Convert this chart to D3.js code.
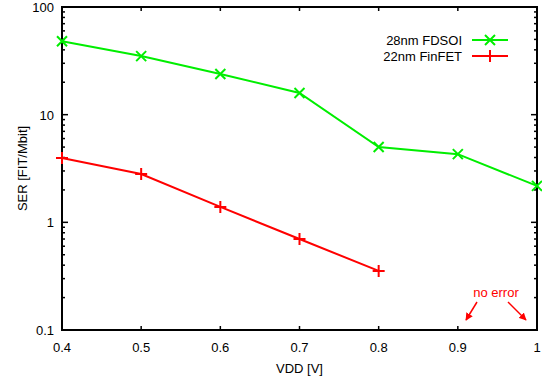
<!DOCTYPE html>
<html>
<head>
<meta charset="utf-8">
<script src="https://cdn.jsdelivr.net/npm/d3@7"></script>
<style>
  body { margin: 0; background: #fff; }
  text { font-family: "Liberation Sans", Arial, sans-serif; }
</style>
</head>
<body>
<div id="chart"></div>
<script>
var vdd = [0.4, 0.5, 0.6, 0.7, 0.8, 0.9, 1.0];
var fdsoi = [48, 35, 23.9, 15.9, 5.0, 4.3, 2.18];
var finfetVdd = [0.4, 0.5, 0.6, 0.7, 0.8];
var finfet = [3.96, 2.81, 1.39, 0.70, 0.354];
var xTicks = [0.4, 0.5, 0.6, 0.7, 0.8, 0.9, 1.0];
var xTickLabels = ["0.4", "0.5", "0.6", "0.7", "0.8", "0.9", "1"];
var yTicks = [0.1, 1, 10, 100];
var yTickLabels = ["0.1", "1", "10", "100"];

var width = 542, height = 383;
var pLeft = 62, pRight = 537, pTop = 7, pBottom = 330;
var fs = 13;

var svg = d3.select("#chart").append("svg").attr("width", width).attr("height", height);

var x = d3.scaleLinear().domain([0.4, 1.0]).range([pLeft, pRight]);
var y = d3.scaleLog().domain([0.1, 100]).range([pBottom, pTop]);

// minor ticks 2..9 per decade
var minor = [];
[0.1, 1, 10].forEach(function(d) {
  for (var k = 2; k <= 9; k++) minor.push(d * k);
});

var axes = svg.append("g");
axes.selectAll(".minl").data(minor).enter().append("line")
  .attr("x1", pLeft).attr("x2", pLeft + 3)
  .attr("y1", function(d) { return y(d); }).attr("y2", function(d) { return y(d); })
  .attr("stroke", "black").attr("stroke-width", 1.5);
axes.selectAll(".minr").data(minor).enter().append("line")
  .attr("x1", pRight).attr("x2", pRight - 3)
  .attr("y1", function(d) { return y(d); }).attr("y2", function(d) { return y(d); })
  .attr("stroke", "black").attr("stroke-width", 1.5);
axes.selectAll(".majl").data(yTicks).enter().append("line")
  .attr("x1", pLeft).attr("x2", pLeft + 6)
  .attr("y1", function(d) { return y(d); }).attr("y2", function(d) { return y(d); })
  .attr("stroke", "black").attr("stroke-width", 1.5);
axes.selectAll(".majr").data(yTicks).enter().append("line")
  .attr("x1", pRight).attr("x2", pRight - 6)
  .attr("y1", function(d) { return y(d); }).attr("y2", function(d) { return y(d); })
  .attr("stroke", "black").attr("stroke-width", 1.5);
axes.selectAll(".xb").data(xTicks).enter().append("line")
  .attr("x1", function(d) { return x(d); }).attr("x2", function(d) { return x(d); })
  .attr("y1", pBottom).attr("y2", pBottom - 4)
  .attr("stroke", "black").attr("stroke-width", 1.5);
axes.selectAll(".xt").data(xTicks).enter().append("line")
  .attr("x1", function(d) { return x(d); }).attr("x2", function(d) { return x(d); })
  .attr("y1", pTop).attr("y2", pTop + 4)
  .attr("stroke", "black").attr("stroke-width", 1.5);

axes.append("rect").attr("x", pLeft).attr("y", pTop)
  .attr("width", pRight - pLeft).attr("height", pBottom - pTop)
  .attr("fill", "none").attr("stroke", "black").attr("stroke-width", 2);

axes.selectAll(".xl").data(xTicks).enter().append("text")
  .attr("x", function(d) { return x(d); }).attr("y", pBottom + 22)
  .attr("text-anchor", "middle").attr("font-size", fs)
  .text(function(d, i) { return xTickLabels[i]; });
axes.selectAll(".yl").data(yTicks).enter().append("text")
  .attr("x", pLeft - 8).attr("y", function(d) { return y(d) + 5; })
  .attr("text-anchor", "end").attr("font-size", fs)
  .text(function(d, i) { return yTickLabels[i]; });

svg.append("text").attr("x", (pLeft + pRight) / 2).attr("y", 373)
  .attr("text-anchor", "middle").attr("font-size", fs).text("VDD [V]");
svg.append("text").attr("transform", "translate(27," + ((pTop + pBottom) / 2) + ") rotate(-90)")
  .attr("text-anchor", "middle").attr("font-size", fs).text("SER [FIT/Mbit]");

var line = d3.line().x(function(d) { return x(d[0]); }).y(function(d) { return y(d[1]); });

var green = "#00ee00", red = "#ff0000";
var gData = vdd.map(function(v, i) { return [v, fdsoi[i]]; });
var rData = finfetVdd.map(function(v, i) { return [v, finfet[i]]; });

svg.append("path").datum(gData).attr("d", line)
  .attr("fill", "none").attr("stroke", green).attr("stroke-width", 2);
svg.append("path").datum(rData).attr("d", line)
  .attr("fill", "none").attr("stroke", red).attr("stroke-width", 2);

function cross(g, cx, cy, col) {
  g.append("path").attr("d", "M" + (cx - 5) + "," + (cy - 5) + "L" + (cx + 5) + "," + (cy + 5) +
    "M" + (cx - 5) + "," + (cy + 5) + "L" + (cx + 5) + "," + (cy - 5))
    .attr("stroke", col).attr("stroke-width", 2);
}
function plus(g, cx, cy, col) {
  g.append("path").attr("d", "M" + (cx - 6) + "," + cy + "L" + (cx + 6) + "," + cy +
    "M" + cx + "," + (cy - 6) + "L" + cx + "," + (cy + 6))
    .attr("stroke", col).attr("stroke-width", 2);
}
gData.forEach(function(d) { cross(svg, x(d[0]), y(d[1]), green); });
rData.forEach(function(d) { plus(svg, x(d[0]), y(d[1]), red); });

// legend
var leg = svg.append("g");
leg.append("text").attr("x", 462).attr("y", 45).attr("text-anchor", "end").attr("font-size", fs).text("28nm FDSOI");
leg.append("line").attr("x1", 472).attr("x2", 508).attr("y1", 40).attr("y2", 40).attr("stroke", green).attr("stroke-width", 2);
cross(leg, 490, 40, green);
leg.append("text").attr("x", 462).attr("y", 61).attr("text-anchor", "end").attr("font-size", fs).text("22nm FinFET");
leg.append("line").attr("x1", 472).attr("x2", 508).attr("y1", 56).attr("y2", 56).attr("stroke", red).attr("stroke-width", 2);
plus(leg, 490, 56, red);

// annotation
svg.append("defs").append("marker").attr("id", "arr")
  .attr("viewBox", "0 0 10 10").attr("refX", 9).attr("refY", 5)
  .attr("markerWidth", 5).attr("markerHeight", 5).attr("orient", "auto")
  .append("path").attr("d", "M0,0L10,5L0,10z").attr("fill", red);
svg.append("text").attr("x", 496).attr("y", 297).attr("text-anchor", "middle")
  .attr("font-size", fs).attr("fill", red).text("no error");
svg.append("line").attr("x1", 477).attr("y1", 302).attr("x2", 466).attr("y2", 320)
  .attr("stroke", red).attr("stroke-width", 1.5).attr("marker-end", "url(#arr)");
svg.append("line").attr("x1", 508).attr("y1", 302).attr("x2", 526).attr("y2", 320)
  .attr("stroke", red).attr("stroke-width", 1.5).attr("marker-end", "url(#arr)");
</script>
</body>
</html>
